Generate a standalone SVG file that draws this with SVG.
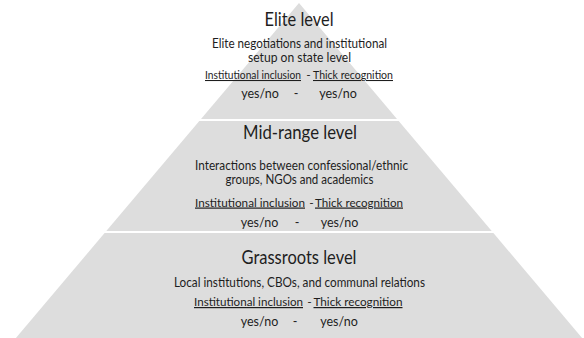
<svg xmlns="http://www.w3.org/2000/svg" width="584" height="338" viewBox="0 0 584 338">
<style>
.tier{fill:#dddddd}
text{font-family:Lato,"Open Sans","Liberation Sans",sans-serif;fill:#1e1e1e;text-anchor:middle}
.title{font-size:19px}
.body{font-size:12.5px}
.inc{font-size:12px;text-anchor:start}
.inc.top{font-size:10.5px}
.dash{font-size:12px}
.yn{font-size:12.5px}
.u{text-decoration:underline}
</style>
<rect width="584" height="338" fill="#ffffff"/>
<g id="tier-elite">
<polygon class="tier" points="299,3 397,119 201,119"/>
<text class="title" x="299" y="25.5" textLength="69" lengthAdjust="spacingAndGlyphs">Elite level</text>
<text class="body" x="299.5" y="47.5" textLength="175" lengthAdjust="spacingAndGlyphs">Elite negotiations and institutional</text>
<text class="body" x="299.5" y="61.5" textLength="103" lengthAdjust="spacingAndGlyphs">setup on state level</text>
<text class="inc top u" x="205" y="79" textLength="96" lengthAdjust="spacingAndGlyphs">Institutional inclusion</text>
<text class="dash" x="308.5" y="79">-</text>
<text class="inc top u" x="313" y="79" textLength="80" lengthAdjust="spacingAndGlyphs">Thick recognition</text>
<text class="yn" x="260" y="97.5">yes/no</text>
<text class="yn" x="296" y="97.5">-</text>
<text class="yn" x="338" y="97.5">yes/no</text>
</g>
<g id="tier-mid">
<polygon class="tier" points="199.3,121 398.7,121 491.7,231 106.3,231"/>
<text class="title" x="300" y="139" textLength="114" lengthAdjust="spacingAndGlyphs">Mid-range level</text>
<text class="body" x="301.5" y="170" textLength="213" lengthAdjust="spacingAndGlyphs">Interactions between confessional/ethnic</text>
<text class="body" x="299.5" y="184" textLength="148" lengthAdjust="spacingAndGlyphs">groups, NGOs and academics</text>
<text class="inc u" x="195" y="206.5" textLength="110" lengthAdjust="spacingAndGlyphs">Institutional inclusion</text>
<text class="dash" x="311.5" y="206.5">-</text>
<text class="inc u" x="315" y="206.5" textLength="88" lengthAdjust="spacingAndGlyphs">Thick recognition</text>
<text class="yn" x="259.5" y="226.5">yes/no</text>
<text class="yn" x="297" y="226.5">-</text>
<text class="yn" x="339.5" y="226.5">yes/no</text>
</g>
<g id="tier-grassroots">
<polygon class="tier" points="104.6,233 493.4,233 582.1,338 15.9,338"/>
<text class="title" x="299" y="263.5" textLength="115" lengthAdjust="spacingAndGlyphs">Grassroots level</text>
<text class="body" x="299.5" y="287" textLength="251" lengthAdjust="spacingAndGlyphs">Local institutions, CBOs, and communal relations</text>
<text class="inc u" x="194" y="306" textLength="109" lengthAdjust="spacingAndGlyphs">Institutional inclusion</text>
<text class="dash" x="309.5" y="306">-</text>
<text class="inc u" x="313.5" y="306" textLength="89" lengthAdjust="spacingAndGlyphs">Thick recognition</text>
<text class="yn" x="259.5" y="326">yes/no</text>
<text class="yn" x="295" y="326">-</text>
<text class="yn" x="339" y="326">yes/no</text>
</g>
<g id="connectors"/>
</svg>
